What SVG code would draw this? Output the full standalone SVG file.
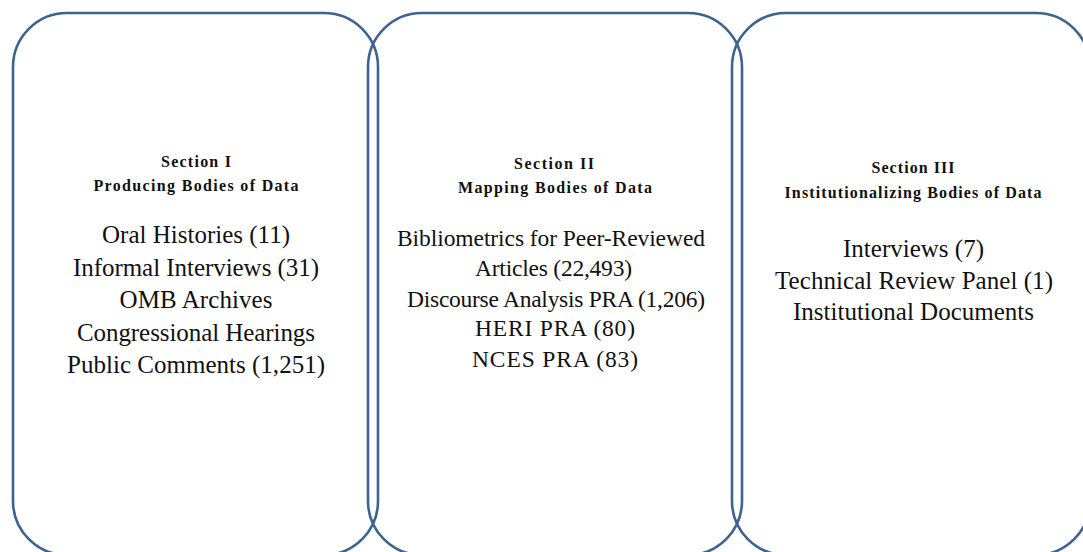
<svg xmlns="http://www.w3.org/2000/svg" width="1083" height="552" viewBox="0 0 1083 552">
<style>
.box{fill:none;stroke:#3d6390;stroke-width:2.6}
.h{font-family:"Liberation Serif",serif;font-weight:bold;font-size:16px;fill:#111;text-anchor:middle}
.b{font-family:"Liberation Serif",serif;font-size:25px;fill:#111;text-anchor:middle}
.b2{font-family:"Liberation Serif",serif;font-size:23.5px;fill:#111;text-anchor:middle}
</style>
<rect width="1083" height="552" fill="#fff"/>
<g id="section1">
<rect class="box" x="13" y="13" width="365" height="542" rx="54" ry="54"/>
<text class="h" x="196" y="167" textLength="70" lengthAdjust="spacing">Section I</text>
<text class="h" x="196" y="191" textLength="205" lengthAdjust="spacing">Producing Bodies of Data</text>
<text class="b" x="196" y="243" textLength="188" lengthAdjust="spacing">Oral Histories (11)</text>
<text class="b" x="196" y="275.5" textLength="246" lengthAdjust="spacing">Informal Interviews (31)</text>
<text class="b" x="196" y="308" textLength="153" lengthAdjust="spacing">OMB Archives</text>
<text class="b" x="196" y="340.5" textLength="238" lengthAdjust="spacing">Congressional Hearings</text>
<text class="b" x="196" y="373" textLength="258" lengthAdjust="spacing">Public Comments (1,251)</text>
</g>
<g id="section2">
<rect class="box" x="368" y="13" width="374" height="542" rx="54" ry="54"/>
<text class="h" x="554" y="169" textLength="80" lengthAdjust="spacing">Section II</text>
<text class="h" x="555" y="193" textLength="194" lengthAdjust="spacing">Mapping Bodies of Data</text>
<text class="b2" x="551" y="246" textLength="308" lengthAdjust="spacing">Bibliometrics for Peer-Reviewed</text>
<text class="b2" x="553.5" y="276" textLength="157" lengthAdjust="spacing">Articles (22,493)</text>
<text class="b2" x="556" y="306.5" textLength="298" lengthAdjust="spacing">Discourse Analysis PRA (1,206)</text>
<text class="b2" x="555" y="336" textLength="160" lengthAdjust="spacing">HERI PRA (80)</text>
<text class="b2" x="555" y="366.5" textLength="166" lengthAdjust="spacing">NCES PRA (83)</text>
</g>
<g id="section3">
<rect class="box" x="732" y="13" width="358" height="542" rx="54" ry="54"/>
<text class="h" x="913" y="173" textLength="83" lengthAdjust="spacing">Section III</text>
<text class="h" x="913" y="198" textLength="257" lengthAdjust="spacing">Institutionalizing Bodies of Data</text>
<text class="b" x="913.5" y="257" textLength="141" lengthAdjust="spacing">Interviews (7)</text>
<text class="b" x="914" y="288.5" textLength="278" lengthAdjust="spacing">Technical Review Panel (1)</text>
<text class="b" x="913.5" y="320" textLength="241" lengthAdjust="spacing">Institutional Documents</text>
</g>
<g id="connectors"/>
</svg>
